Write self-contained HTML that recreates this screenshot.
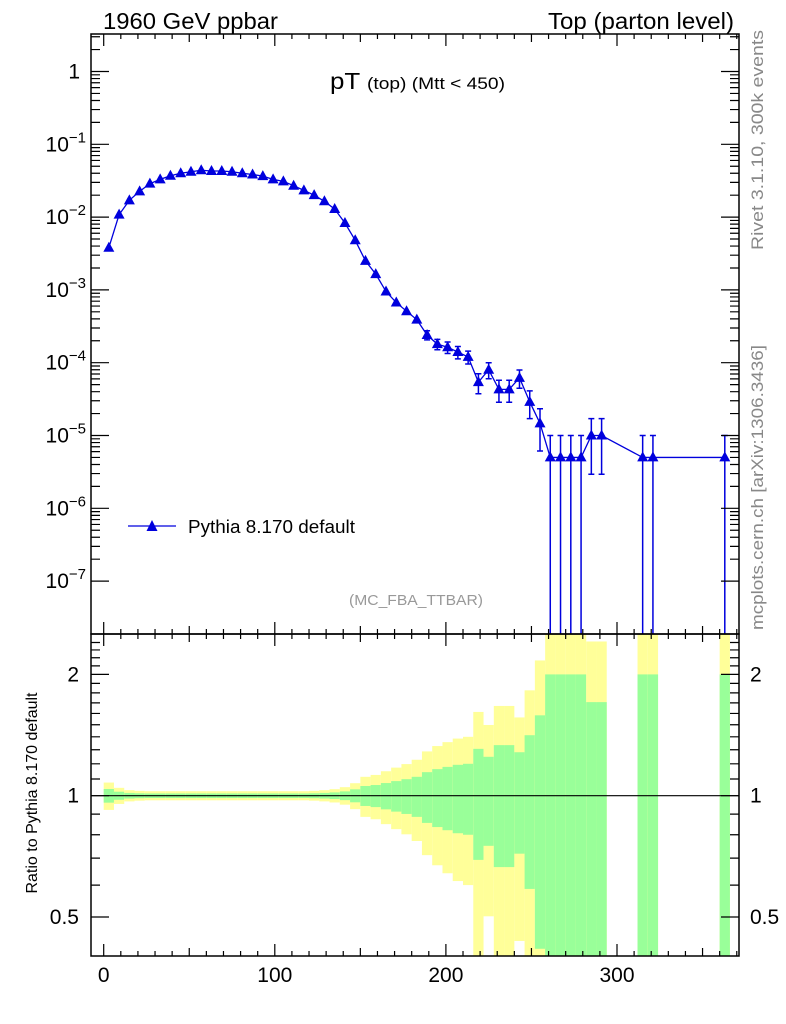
<!DOCTYPE html>
<html><head><meta charset="utf-8">
<style>
html,body{margin:0;padding:0;background:#fff;}
svg{display:block;font-family:"Liberation Sans",Arial,sans-serif;}
</style></head>
<body>
<svg id="chart" width="786" height="1024" viewBox="0 0 786 1024" xmlns="http://www.w3.org/2000/svg">
<text x="103" y="29" font-size="23" textLength="175" lengthAdjust="spacingAndGlyphs">1960 GeV ppbar</text>
<text x="548" y="29" font-size="23" textLength="186" lengthAdjust="spacingAndGlyphs">Top (parton level)</text>
<text x="330" y="89" font-size="23" textLength="175" lengthAdjust="spacingAndGlyphs">pT <tspan font-size="17">(top) (Mtt &lt; 450)</tspan></text>
<text x="349" y="605" font-size="15" fill="#999" textLength="134" lengthAdjust="spacingAndGlyphs">(MC_FBA_TTBAR)</text>
<text transform="translate(763,250) rotate(-90)" font-size="17" fill="#888" textLength="220" lengthAdjust="spacingAndGlyphs">Rivet 3.1.10,  300k events</text>
<text transform="translate(763,630) rotate(-90)" font-size="17" fill="#888" textLength="285" lengthAdjust="spacingAndGlyphs">mcplots.cern.ch [arXiv:1306.3436]</text>
<text transform="translate(37,793) rotate(-90)" font-size="16" text-anchor="middle">Ratio to Pythia 8.170 default</text>
<g id="ratio"></g>
<g id="main"></g>
<g id="axes"></g>
<g>
<line x1="128" y1="526" x2="176" y2="526" stroke="#0000dd" stroke-width="1.3"/>
<polygon points="152,520 146.5,531 157.5,531" fill="#0000dd"/>
<text x="188" y="533" font-size="18" textLength="167" lengthAdjust="spacingAndGlyphs">Pythia 8.170 default</text>
</g>
</svg>
<script>
const binWidth = 6;
const binLow = [0,6,12,18,24,30,36,42,48,54,60,66,72,78,84,90,96,102,108,114,120,126,132,138,144,150,156,162,168,174,180,186,192,198,204,210,216,222,228,234,240,246,252,258,264,270,276,282,288,294,300,306,312,318,324,330,336,342,348,354,360];
const values = [3.8e-3,1.08e-2,1.7e-2,2.26e-2,2.88e-2,3.3e-2,3.7e-2,4.0e-2,4.2e-2,4.4e-2,4.3e-2,4.3e-2,4.2e-2,4.0e-2,3.85e-2,3.65e-2,3.3e-2,3.1e-2,2.7e-2,2.33e-2,2.0e-2,1.65e-2,1.29e-2,8.3e-3,4.8e-3,2.5e-3,1.65e-3,9.5e-4,6.7e-4,5.1e-4,3.9e-4,2.4e-4,1.8e-4,1.63e-4,1.4e-4,1.2e-4,5.4e-5,8.0e-5,4.3e-5,4.3e-5,6.2e-5,2.9e-5,1.47e-5,5e-6,5e-6,5e-6,5e-6,1e-5,1e-5,null,null,null,5e-6,5e-6,null,null,null,null,null,null,5e-6];
const relErr = [0.039,0.023,0.016,0.014,0.013,0.013,0.013,0.013,0.013,0.013,0.013,0.013,0.013,0.013,0.013,0.013,0.013,0.013,0.013,0.013,0.014,0.016,0.019,0.025,0.037,0.057,0.063,0.075,0.087,0.099,0.114,0.144,0.164,0.179,0.193,0.2,0.307,0.249,0.335,0.335,0.282,0.413,0.583,1,1,1,1,0.707,0.707,null,null,null,1,1,null,null,null,null,null,null,1];
const xTicksMajor = [0,100,200,300];
const yDecades = [0,-1,-2,-3,-4,-5,-6,-7];
const ratioTicks = [0.5,1,2];

const NS="http://www.w3.org/2000/svg";
const L=91,R=739,T=34,B=634,RT=634,RB=956;
const X=v=>103.7+v*1.711;
const Y=v=>71.5-72.8*Math.log10(v);
const YR=r=>795.7-121.3*Math.log2(r);
function mk(parent,tag,attrs){const e=document.createElementNS(NS,tag);for(const k in attrs)e.setAttribute(k,attrs[k]);parent.appendChild(e);return e;}
const gMain=document.getElementById('main'),gRatio=document.getElementById('ratio'),gAx=document.getElementById('axes');
const clampR=y=>Math.max(RT,Math.min(RB,y));
const clampM=y=>Math.max(T,Math.min(B,y));

binLow.forEach((lo,i)=>{
  const e=relErr[i]; if(e==null) return;
  const x0=X(lo),x1=X(lo+binWidth);
  const yU=clampR(YR(1+2*e)), yL=(1-2*e)>0?clampR(YR(1-2*e)):RB;
  const yb=mk(gRatio,'rect',{x:x0,y:yU,width:x1-x0,height:yL-yU,fill:'#ffff99'});
  
  
  const gU=clampR(YR(1+e)), gL=(1-e)>0?clampR(YR(1-e)):RB;
  const gb=mk(gRatio,'rect',{x:x0,y:gU,width:x1-x0,height:gL-gU,fill:'#99ff99'});
  
  
});
const ul=mk(gRatio,'line',{x1:L,x2:R,y1:YR(1),y2:YR(1),stroke:'#000','stroke-width':1.2});



let pts=[];
binLow.forEach((lo,i)=>{if(values[i]!=null)pts.push([X(lo+binWidth/2),Y(values[i])]);});
const pl=mk(gMain,'polyline',{points:pts.map(p=>p.join(',')).join(' '),fill:'none',stroke:'#0000dd','stroke-width':1.3});


binLow.forEach((lo,i)=>{
  const v=values[i]; if(v==null) return;
  const cx=X(lo+binWidth/2), cy=Y(v), e=relErr[i];
  const yTop=clampM(Y(v*(1+e))), yBot=(1-e)>0?clampM(Y(v*(1-e))):B;
  if(cy-yTop>4||yBot-cy>4){
    const eb=mk(gMain,'path',{d:`M${cx},${yTop}V${yBot}M${cx-3},${yTop}H${cx+3}`+(yBot<B?`M${cx-3},${yBot}H${cx+3}`:''),stroke:'#0000dd','stroke-width':1.5,fill:'none'});
    
    
  }
  const m=mk(gMain,'polygon',{points:`${cx},${cy-6} ${cx-5.5},${cy+4} ${cx+5.5},${cy+4}`,fill:'#0000dd'});
  
  
});

[[T,B],[RT,RB]].forEach(([t,b],k)=>{
  const f=mk(gAx,'rect',{x:L,y:t,width:R-L,height:b-t,fill:'none',stroke:'#000','stroke-width':1.5});
  
  
});
let d='';
for(let v=0;v<=370;v+=10){
  const x=X(v); const len=v%100===0?12:(v%50===0?8:5);
  d+=`M${x},${B}v${-len}M${x},${T}v${len}M${x},${RB}v${-len}M${x},${RT}v${len}`;
}
yDecades.forEach(p=>{
  for(let m=1;m<10;m++){
    const y=Y(m*Math.pow(10,p)); if(y<T||y>B) continue;
    const len=m===1?18:9;
    d+=`M${L},${y}h${len}M${R},${y}h${-len}`;
  }
});
[0.4,0.5,0.6,0.7,0.8,0.9,1,1.1,1.2,1.3,1.4,1.5,1.6,1.7,1.8,1.9,2,2.1,2.2,2.3,2.4].forEach(r=>{
  const y=YR(r); if(y<RT||y>RB) return;
  const len=ratioTicks.includes(r)?18:9;
  d+=`M${L},${y}h${len}M${R},${y}h${-len}`;
});
const tk=mk(gAx,'path',{d:d,stroke:'#000','stroke-width':1.2,fill:'none'});



xTicksMajor.forEach(v=>{
  const t=mk(gAx,'text',{x:X(v),y:982,'font-size':21,'text-anchor':'middle'});
  t.textContent=v;
  
  
});
yDecades.forEach(p=>{
  const t=mk(gAx,'text',{x:p===0?80:86,y:Y(Math.pow(10,p))+7,'font-size':21,'text-anchor':'end'});
  if(p===0){t.textContent='1';}
  else{t.textContent='10';const s=mk(t,'tspan',{dy:-9,'font-size':15});s.textContent='\u2212'+(-p);}
  
  
});
ratioTicks.forEach(r=>{
  const y=YR(r)+7;
  const a=mk(gAx,'text',{x:79,y:y,'font-size':21,'text-anchor':'end'});a.textContent=r;
  
  
  const b=mk(gAx,'text',{x:750,y:y,'font-size':21});b.textContent=r;
  
  
});
</script>
</body></html>
